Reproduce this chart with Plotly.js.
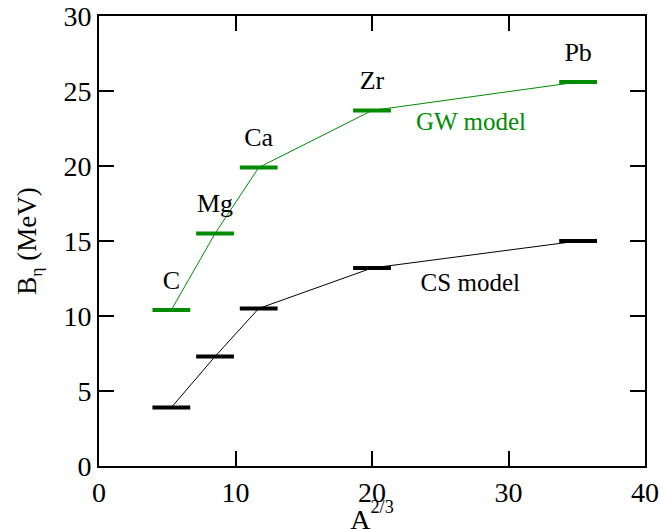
<!DOCTYPE html>
<html>
<head>
<meta charset="utf-8">
<script src="https://cdn.plot.ly/plotly-3.0.1.min.js"></script>
<style>
  html, body { margin: 0; padding: 0; background: #fff; }
  #wrap { position: relative; width: 662px; height: 529px; overflow: hidden; }
  #chart { width: 662px; height: 529px; }
  .axtitle { position: absolute; font-family: "Liberation Serif", "DejaVu Serif", serif; color: #000; white-space: nowrap; line-height: 1; }
  #ytitle { left: 30px; top: 241px; font-size: 27px; transform: translate(-50%, -50%) rotate(-90deg); }
  #xtitle { left: 372px; top: 516px; font-size: 28px; transform: translate(-50%, -50%); }
  .axtitle sub { font-size: 65%; vertical-align: -0.35em; }
  .axtitle sup { font-size: 65%; vertical-align: 0.9em; }
</style>
</head>
<body>
<div id="wrap">
  <div id="chart"></div>
  <div id="ytitle" class="axtitle">B<sub>&eta;</sub> (MeV)</div>
  <div id="xtitle" class="axtitle">A<sup>2/3</sup></div>
</div>
<script>
// Nuclei and their A^(2/3)
const elements = ['C', 'Mg', 'Ca', 'Zr', 'Pb'];
const a23 = [5.3, 8.5, 11.7, 20.0, 35.1];

// Binding energies B_eta (MeV) for the two models
const gwModel = [10.4, 15.5, 19.9, 23.7, 25.6];
const csModel = [3.9, 7.3, 10.5, 13.2, 15.0];

// model names and where they are written
const modelNames = ['GW model', 'CS model'];
const modelLabelX = [27.25, 27.2];
const modelLabelY = [22.8, 12.1];

const green = 'rgb(0,140,0)';
const serif = '"Liberation Serif", "DejaVu Serif", serif';

function levelTrace(yvals, color, name) {
  return {
    x: a23, y: yvals, name: name, type: 'scatter', mode: 'lines+markers',
    line: { color: color, width: 1 },
    marker: { symbol: 'line-ew', size: 27, color: color, line: { color: color, width: 4 } },
    cliponaxis: false
  };
}

const traces = [
  levelTrace(gwModel, green, 'GW model'),
  levelTrace(csModel, 'black', 'CS model'),
  // element names above the GW levels
  {
    x: a23, y: gwModel, type: 'scatter', mode: 'markers+text',
    text: elements, textposition: 'top center',
    textfont: { family: serif, size: 26, color: 'black' },
    marker: { size: 22, opacity: 0 },
    cliponaxis: false, hoverinfo: 'skip'
  },
  // model names
  {
    x: modelLabelX, y: modelLabelY, type: 'scatter', mode: 'text',
    text: modelNames, textposition: 'middle center',
    textfont: { family: serif, size: 25, color: [green, 'black'] },
    cliponaxis: false, hoverinfo: 'skip'
  }
];

const layout = {
  width: 662, height: 529,
  margin: { l: 99, r: 17, t: 16, b: 63 },
  showlegend: false,
  font: { family: serif, color: 'black', size: 28 },
  xaxis: { range: [0, 40], dtick: 10, ticks: 'inside', ticklen: 15, tickwidth: 2, tickcolor: 'black', showline: true, linewidth: 2, linecolor: 'black', mirror: 'ticks', showgrid: false, zeroline: false },
  yaxis: { range: [0, 30], dtick: 5, ticks: 'inside', ticklen: 15, tickwidth: 2, tickcolor: 'black', showline: true, linewidth: 2, linecolor: 'black', mirror: 'ticks', showgrid: false, zeroline: false }
};

Plotly.newPlot('chart', traces, layout, { displayModeBar: false, staticPlot: true });
</script>
</body>
</html>
